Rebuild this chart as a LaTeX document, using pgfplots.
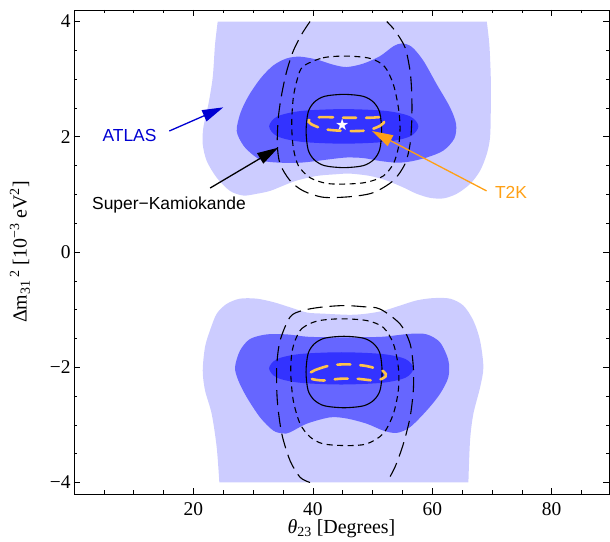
\documentclass[border=0pt]{standalone}
\usepackage{fontspec}
\setmainfont{Liberation Serif}
\newfontfamily\sansf{Liberation Sans}
\newfontfamily\symf{DejaVu Sans}
\usepackage{pgfplots}
\pgfplotsset{compat=1.18}
\usetikzlibrary{arrows.meta}

\definecolor{lightB}{RGB}{204,204,255}
\definecolor{midB}{RGB}{102,102,255}
\definecolor{darkB}{RGB}{51,51,255}
\definecolor{t2kLine}{RGB}{255,195,75}
\definecolor{t2kTxt}{RGB}{255,160,20}
\definecolor{atlasTxt}{RGB}{0,0,210}

\begin{document}
\begin{tikzpicture}
\begin{axis}[
    scale only axis,
    width=535bp, height=484bp,
    xmin=0, xmax=89.6, ymin=-4.2, ymax=4.2,
    xtick={20,40,60,80}, xticklabels={20,40,60,80},
    ytick={-4,-2,0,2,4}, yticklabels={−4,−2,0,2,4},
    minor xtick={5,10,...,85},
    minor ytick={-4,-3.5,...,4},
    tick align=inside,
    major tick length=6bp, minor tick length=3.5bp,
    tick style={black, line width=0.6bp},
    axis line style={line width=0.8bp},
    tick label style={font=\fontsize{19.5}{22}\selectfont},
    xticklabel style={yshift=-5bp},
    label style={font=\fontsize{20}{24}\selectfont},
    xlabel={\textit{θ}\textsubscript{23} [Degrees]},
    ylabel={Δm\textsubscript{31}\textsuperscript{\,2} [10\textsuperscript{−3} eV\textsuperscript{2}]},
    xlabel style={at={(axis description cs:0.5,-0.0715)}, anchor=center},
    ylabel style={at={(axis description cs:-0.101,0.5)}, anchor=center},
]

% ATLAS, outer region
\addplot[draw=none, fill=lightB, smooth] coordinates {
(24.07,4.0) (23.62,3.60) (23.23,3.03) (22.50,2.56) (21.66,2.16) (21.56,1.87) (22.23,1.58)
(23.90,1.29) (26.13,1.06) (28.36,0.98) (30.60,1.01) (32.83,1.06) (35.01,1.15) (37.30,1.24)
(40.65,1.32) (44.00,1.35) (46.23,1.36) (49.58,1.32) (52.38,1.24) (55.16,1.12) (57.40,1.01)
(59.63,0.94) (61.86,0.93) (64.10,1.01) (66.33,1.18) (68.01,1.41) (69.13,1.70) (69.68,1.99)
(69.80,2.45) (69.80,3.03) (69.56,3.60) (69.13,4.0)
} -- cycle;
\addplot[draw=none, fill=lightB, smooth] coordinates {
(24.34,-4.0) (23.90,-3.39) (23.06,-2.81) (21.94,-2.40) (21.56,-2.06) (21.94,-1.65) (22.78,-1.36)
(23.90,-1.07) (25.58,-0.90) (27.81,-0.81) (30.60,-0.81) (33.38,-0.87) (36.18,-0.96) (38.98,-1.05)
(41.76,-1.07) (46.23,-1.09) (49.03,-1.07) (51.81,-1.02) (54.61,-0.93) (57.40,-0.84) (60.18,-0.80)
(62.98,-0.81) (65.21,-0.93) (66.88,-1.19) (68.01,-1.54) (68.56,-2.00) (68.01,-2.35) (66.88,-2.81)
(66.33,-3.27) (66.05,-4.0)
} -- cycle;

% ATLAS, middle region
\addplot[draw=none, fill=midB, smooth cycle] coordinates {
(27.25,2.10) (27.90,2.42) (29.30,2.72) (31.30,3.02) (33.40,3.24) (35.63,3.36) (37.86,3.39)
(40.65,3.34) (43.43,3.25) (45.68,3.21) (48.46,3.27) (51.26,3.40) (53.48,3.57) (54.89,3.62)
(56.57,3.56) (58.51,3.32) (60.75,2.91) (62.98,2.51) (63.99,2.22) (63.70,1.97) (61.86,1.76)
(59.08,1.64) (56.28,1.57) (54.05,1.55) (51.26,1.58) (48.46,1.63) (45.68,1.64) (42.88,1.61)
(40.65,1.58) (37.86,1.55) (34.51,1.55) (31.71,1.58) (30.03,1.68) (28.36,1.85)
};
\addplot[draw=none, fill=midB, smooth cycle] coordinates {
(26.97,-2.00) (27.81,-1.71) (29.48,-1.51) (32.28,-1.43) (35.63,-1.43) (38.98,-1.47) (42.88,-1.48)
(47.35,-1.48) (51.81,-1.47) (56.28,-1.42) (59.08,-1.43) (61.31,-1.57) (62.70,-1.88) (62.70,-2.17)
(61.31,-2.46) (59.08,-2.75) (56.28,-3.04) (54.05,-3.14) (51.81,-3.10) (49.03,-2.98) (45.68,-2.89)
(42.88,-2.87) (38.98,-2.98) (36.18,-3.13) (35.06,-3.15) (33.38,-3.10) (31.16,-2.87) (28.93,-2.52)
(27.52,-2.23)
};

% ATLAS, inner region
\addplot[draw=none, fill=darkB, smooth cycle] coordinates {
(57.68,2.18) (56.32,2.352) (52.36,2.447) (45.18,2.48) (38.00,2.447) (34.04,2.352)
(32.68,2.18) (34.04,2.008) (38.00,1.913) (45.18,1.88) (52.36,1.913) (56.32,2.008)
};
\addplot[draw=none, fill=darkB, smooth cycle] coordinates {
(56.85,-2.02) (55.53,-1.859) (51.70,-1.771) (44.76,-1.74) (37.82,-1.771) (33.99,-1.859)
(32.67,-2.02) (33.99,-2.181) (37.82,-2.269) (44.76,-2.30) (51.70,-2.269) (55.53,-2.181)
};

% Super-Kamiokande, long dashes
\addplot[black, line width=1.1bp, dash pattern=on 15bp off 7bp, smooth] coordinates {
(39.53,4.0) (38.14,3.78) (36.73,3.49) (35.63,3.14) (34.79,2.74) (34.22,2.33) (34.05,1.87)
(34.51,1.53) (36.18,1.24) (38.41,1.06) (41.76,0.95) (46.23,0.96) (50.13,1.03) (53.48,1.24)
(55.44,1.53) (56.28,1.87) (56.57,2.28) (56.57,2.74) (56.28,3.14) (55.44,3.55) (53.77,3.84)
(52.38,4.0)
};
\addplot[black, line width=1.1bp, dash pattern=on 15bp off 7bp, smooth] coordinates {
(39.53,-4.0) (37.86,-3.91) (36.18,-3.62) (34.79,-3.15) (34.05,-2.58) (33.95,-2.00) (34.51,-1.54)
(36.18,-1.13) (38.14,-1.02) (41.21,-0.96) (45.11,-0.93) (48.46,-0.95) (51.26,-0.99) (54.61,-1.25)
(56.28,-1.59) (56.83,-2.00) (56.83,-2.40) (56.28,-2.87) (55.16,-3.33) (53.77,-3.73) (52.38,-4.0)
};

% Super-Kamiokande, short dashes
\addplot[black, line width=1.1bp, dash pattern=on 6bp off 4.5bp, smooth cycle] coordinates {
(38.36,3.22) (41.71,3.37) (45.68,3.40) (49.58,3.36) (52.00,3.22) (53.48,2.91) (54.32,2.51)
(54.61,2.16) (54.32,1.81) (53.48,1.53) (51.81,1.32) (49.03,1.21) (45.68,1.18) (42.33,1.19)
(39.53,1.29) (37.57,1.50) (36.73,1.81) (36.46,2.22) (36.73,2.68) (37.40,3.00)
};
\addplot[black, line width=1.1bp, dash pattern=on 6bp off 4.5bp, smooth cycle] coordinates {
(37.02,-1.54) (38.14,-1.33) (40.65,-1.20) (44.56,-1.16) (49.03,-1.19) (51.81,-1.31) (53.48,-1.59)
(54.32,-2.00) (54.32,-2.40) (53.48,-2.81) (51.81,-3.15) (49.03,-3.33) (45.68,-3.36) (41.76,-3.33)
(39.53,-3.21) (37.86,-2.98) (36.73,-2.58) (36.30,-2.11) (36.46,-1.77)
};

% Super-Kamiokande, solid
\addplot[black, line width=1.1bp, smooth cycle] coordinates {
(51.53,2.10) (51.19,2.425) (50.17,2.599) (48.43,2.702) (45.2,2.736) (41.97,2.702) (40.23,2.599)
(39.21,2.425) (38.87,2.10) (39.21,1.775) (40.23,1.601) (41.97,1.498) (45.2,1.464) (48.43,1.498)
(50.17,1.601) (51.19,1.775)
};
\addplot[black, line width=1.1bp, smooth cycle] coordinates {
(51.60,-2.083) (51.26,-1.766) (50.23,-1.596) (48.49,-1.496) (45.23,-1.463) (41.97,-1.496)
(40.23,-1.596) (39.20,-1.766) (38.86,-2.083) (39.20,-2.400) (40.23,-2.570) (41.97,-2.670)
(45.23,-2.703) (48.49,-2.670) (50.23,-2.570) (51.26,-2.400)
};

% T2K
\addplot[t2kLine, line width=2.6bp, line cap=round, dash pattern=on 13bp off 10bp, smooth cycle] coordinates {
(39.36,2.29) (41.21,2.34) (45.68,2.33) (49.58,2.33) (51.76,2.34) (52.09,2.28) (51.26,2.19)
(49.03,2.11) (45.68,2.10) (42.04,2.13) (39.70,2.22)
};
\addplot[t2kLine, line width=2.6bp, line cap=round, dash pattern=on 13bp off 10bp, smooth cycle] coordinates {
(39.20,-2.13) (40.37,-2.05) (42.88,-1.97) (45.68,-1.95) (49.03,-1.98) (51.81,-2.07) (52.17,-2.16)
(50.58,-2.23) (47.35,-2.20) (44.56,-2.20) (41.76,-2.23) (39.70,-2.20)
};

% best fit
\addplot[only marks, mark=text, text mark={\textcolor{white}{\symf\fontsize{16}{16}\selectfont ★}}] coordinates {(44.94,2.20)};

% annotations
\draw[atlasTxt, line width=1.3bp, -{Triangle[length=21bp,width=12bp]}] (axis cs:15.96,2.10) -- (axis cs:25.0,2.51);
\node[atlasTxt, anchor=base, font=\sansf\fontsize{17.5}{20}\selectfont] at (axis cs:9.3,1.92) {ATLAS};
\draw[black, line width=1.3bp, -{Triangle[length=21bp,width=12bp]}] (axis cs:22.8,1.11) -- (axis cs:34.2,1.81);
\node[black, anchor=base, font=\sansf\fontsize{17.5}{20}\selectfont] at (axis cs:15.9,0.73) {Super−Kamiokande};
\draw[t2kTxt, line width=1.3bp, -{Triangle[length=21bp,width=12bp]}] (axis cs:69.1,1.06) -- (axis cs:49.9,2.10);
\node[t2kTxt, anchor=base, font=\sansf\fontsize{17.5}{20}\selectfont] at (axis cs:73.2,0.92) {T2K};
\end{axis}
\pgfresetboundingbox
\path[use as bounding box] ([xshift=-74bp,yshift=-48bp]current axis.south west) rectangle ([xshift=1bp,yshift=10bp]current axis.north east);
\end{tikzpicture}
\end{document}
